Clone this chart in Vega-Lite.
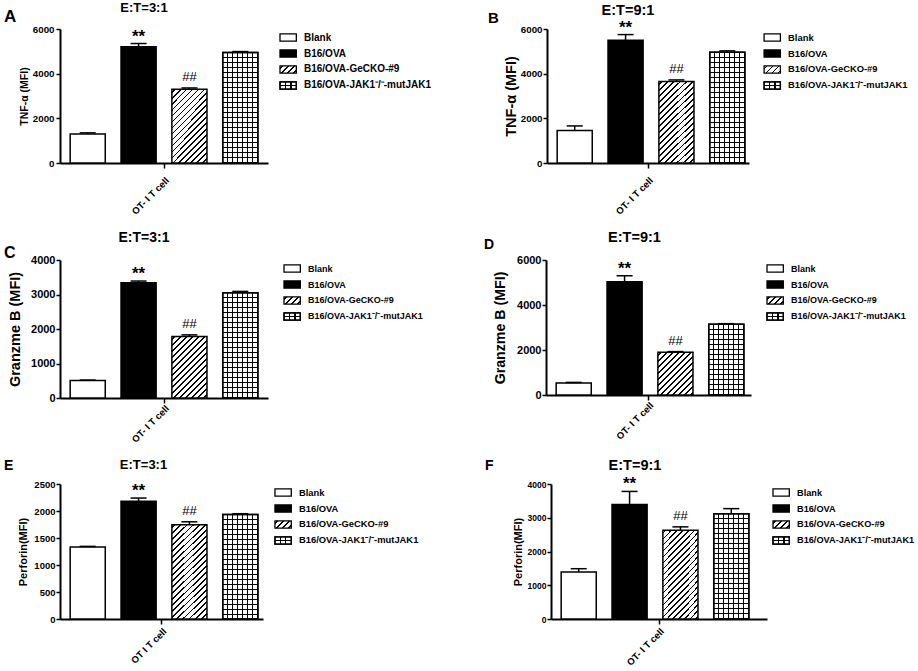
{
"$schema":"https://vega.github.io/schema/vega-lite/v6.json",
"background":"white",
"padding":{"left":4,"top":2,"right":0,"bottom":0},
"params":[
{"name":"hs","value":[
{"offset":0.014,"color":"#fff"},{"offset":0.014,"color":"#000"},{"offset":0.026,"color":"#000"},{"offset":0.026,"color":"#fff"},
{"offset":0.054,"color":"#fff"},{"offset":0.054,"color":"#000"},{"offset":0.066,"color":"#000"},{"offset":0.066,"color":"#fff"},
{"offset":0.094,"color":"#fff"},{"offset":0.094,"color":"#000"},{"offset":0.106,"color":"#000"},{"offset":0.106,"color":"#fff"},
{"offset":0.134,"color":"#fff"},{"offset":0.134,"color":"#000"},{"offset":0.146,"color":"#000"},{"offset":0.146,"color":"#fff"},
{"offset":0.174,"color":"#fff"},{"offset":0.174,"color":"#000"},{"offset":0.186,"color":"#000"},{"offset":0.186,"color":"#fff"},
{"offset":0.214,"color":"#fff"},{"offset":0.214,"color":"#000"},{"offset":0.226,"color":"#000"},{"offset":0.226,"color":"#fff"},
{"offset":0.254,"color":"#fff"},{"offset":0.254,"color":"#000"},{"offset":0.266,"color":"#000"},{"offset":0.266,"color":"#fff"},
{"offset":0.294,"color":"#fff"},{"offset":0.294,"color":"#000"},{"offset":0.306,"color":"#000"},{"offset":0.306,"color":"#fff"},
{"offset":0.334,"color":"#fff"},{"offset":0.334,"color":"#000"},{"offset":0.346,"color":"#000"},{"offset":0.346,"color":"#fff"},
{"offset":0.374,"color":"#fff"},{"offset":0.374,"color":"#000"},{"offset":0.386,"color":"#000"},{"offset":0.386,"color":"#fff"},
{"offset":0.414,"color":"#fff"},{"offset":0.414,"color":"#000"},{"offset":0.426,"color":"#000"},{"offset":0.426,"color":"#fff"},
{"offset":0.454,"color":"#fff"},{"offset":0.454,"color":"#000"},{"offset":0.466,"color":"#000"},{"offset":0.466,"color":"#fff"},
{"offset":0.494,"color":"#fff"},{"offset":0.494,"color":"#000"},{"offset":0.506,"color":"#000"},{"offset":0.506,"color":"#fff"},
{"offset":0.534,"color":"#fff"},{"offset":0.534,"color":"#000"},{"offset":0.546,"color":"#000"},{"offset":0.546,"color":"#fff"},
{"offset":0.574,"color":"#fff"},{"offset":0.574,"color":"#000"},{"offset":0.586,"color":"#000"},{"offset":0.586,"color":"#fff"},
{"offset":0.614,"color":"#fff"},{"offset":0.614,"color":"#000"},{"offset":0.626,"color":"#000"},{"offset":0.626,"color":"#fff"},
{"offset":0.654,"color":"#fff"},{"offset":0.654,"color":"#000"},{"offset":0.666,"color":"#000"},{"offset":0.666,"color":"#fff"},
{"offset":0.694,"color":"#fff"},{"offset":0.694,"color":"#000"},{"offset":0.706,"color":"#000"},{"offset":0.706,"color":"#fff"},
{"offset":0.734,"color":"#fff"},{"offset":0.734,"color":"#000"},{"offset":0.746,"color":"#000"},{"offset":0.746,"color":"#fff"},
{"offset":0.774,"color":"#fff"},{"offset":0.774,"color":"#000"},{"offset":0.786,"color":"#000"},{"offset":0.786,"color":"#fff"},
{"offset":0.814,"color":"#fff"},{"offset":0.814,"color":"#000"},{"offset":0.826,"color":"#000"},{"offset":0.826,"color":"#fff"},
{"offset":0.854,"color":"#fff"},{"offset":0.854,"color":"#000"},{"offset":0.866,"color":"#000"},{"offset":0.866,"color":"#fff"}
]},
{"name":"vg","value":[
{"offset":0.125,"color":"#fff"},{"offset":0.125,"color":"#000"},{"offset":0.161,"color":"#000"},{"offset":0.161,"color":"#fff"},
{"offset":0.268,"color":"#fff"},{"offset":0.268,"color":"#000"},{"offset":0.304,"color":"#000"},{"offset":0.304,"color":"#fff"},
{"offset":0.411,"color":"#fff"},{"offset":0.411,"color":"#000"},{"offset":0.447,"color":"#000"},{"offset":0.447,"color":"#fff"},
{"offset":0.553,"color":"#fff"},{"offset":0.553,"color":"#000"},{"offset":0.589,"color":"#000"},{"offset":0.589,"color":"#fff"},
{"offset":0.696,"color":"#fff"},{"offset":0.696,"color":"#000"},{"offset":0.732,"color":"#000"},{"offset":0.732,"color":"#fff"},
{"offset":0.839,"color":"#fff"},{"offset":0.839,"color":"#000"},{"offset":0.875,"color":"#000"},{"offset":0.875,"color":"#fff"}
]},
{"name":"hg","value":[
{"offset":0.0367,"color":"transparent"},{"offset":0.0367,"color":"#000"},{"offset":0.0467,"color":"#000"},{"offset":0.0467,"color":"transparent"},
{"offset":0.0783,"color":"transparent"},{"offset":0.0783,"color":"#000"},{"offset":0.0883,"color":"#000"},{"offset":0.0883,"color":"transparent"},
{"offset":0.12,"color":"transparent"},{"offset":0.12,"color":"#000"},{"offset":0.13,"color":"#000"},{"offset":0.13,"color":"transparent"},
{"offset":0.1617,"color":"transparent"},{"offset":0.1617,"color":"#000"},{"offset":0.1717,"color":"#000"},{"offset":0.1717,"color":"transparent"},
{"offset":0.2033,"color":"transparent"},{"offset":0.2033,"color":"#000"},{"offset":0.2133,"color":"#000"},{"offset":0.2133,"color":"transparent"},
{"offset":0.245,"color":"transparent"},{"offset":0.245,"color":"#000"},{"offset":0.255,"color":"#000"},{"offset":0.255,"color":"transparent"},
{"offset":0.2867,"color":"transparent"},{"offset":0.2867,"color":"#000"},{"offset":0.2967,"color":"#000"},{"offset":0.2967,"color":"transparent"},
{"offset":0.3283,"color":"transparent"},{"offset":0.3283,"color":"#000"},{"offset":0.3383,"color":"#000"},{"offset":0.3383,"color":"transparent"},
{"offset":0.37,"color":"transparent"},{"offset":0.37,"color":"#000"},{"offset":0.38,"color":"#000"},{"offset":0.38,"color":"transparent"},
{"offset":0.4117,"color":"transparent"},{"offset":0.4117,"color":"#000"},{"offset":0.4217,"color":"#000"},{"offset":0.4217,"color":"transparent"},
{"offset":0.4533,"color":"transparent"},{"offset":0.4533,"color":"#000"},{"offset":0.4633,"color":"#000"},{"offset":0.4633,"color":"transparent"},
{"offset":0.495,"color":"transparent"},{"offset":0.495,"color":"#000"},{"offset":0.505,"color":"#000"},{"offset":0.505,"color":"transparent"},
{"offset":0.5367,"color":"transparent"},{"offset":0.5367,"color":"#000"},{"offset":0.5467,"color":"#000"},{"offset":0.5467,"color":"transparent"},
{"offset":0.5783,"color":"transparent"},{"offset":0.5783,"color":"#000"},{"offset":0.5883,"color":"#000"},{"offset":0.5883,"color":"transparent"},
{"offset":0.62,"color":"transparent"},{"offset":0.62,"color":"#000"},{"offset":0.63,"color":"#000"},{"offset":0.63,"color":"transparent"},
{"offset":0.6617,"color":"transparent"},{"offset":0.6617,"color":"#000"},{"offset":0.6717,"color":"#000"},{"offset":0.6717,"color":"transparent"},
{"offset":0.7033,"color":"transparent"},{"offset":0.7033,"color":"#000"},{"offset":0.7133,"color":"#000"},{"offset":0.7133,"color":"transparent"},
{"offset":0.745,"color":"transparent"},{"offset":0.745,"color":"#000"},{"offset":0.755,"color":"#000"},{"offset":0.755,"color":"transparent"},
{"offset":0.7867,"color":"transparent"},{"offset":0.7867,"color":"#000"},{"offset":0.7967,"color":"#000"},{"offset":0.7967,"color":"transparent"},
{"offset":0.8283,"color":"transparent"},{"offset":0.8283,"color":"#000"},{"offset":0.8383,"color":"#000"},{"offset":0.8383,"color":"transparent"},
{"offset":0.87,"color":"transparent"},{"offset":0.87,"color":"#000"},{"offset":0.88,"color":"#000"},{"offset":0.88,"color":"transparent"},
{"offset":0.9117,"color":"transparent"},{"offset":0.9117,"color":"#000"},{"offset":0.9217,"color":"#000"},{"offset":0.9217,"color":"transparent"},
{"offset":0.9533,"color":"transparent"},{"offset":0.9533,"color":"#000"},{"offset":0.9633,"color":"#000"},{"offset":0.9633,"color":"transparent"}
]},
{"name":"lvg","value":[
{"offset":0.293,"color":"#fff"},{"offset":0.293,"color":"#000"},{"offset":0.373,"color":"#000"},{"offset":0.373,"color":"#fff"},
{"offset":0.627,"color":"#fff"},{"offset":0.627,"color":"#000"},{"offset":0.707,"color":"#000"},{"offset":0.707,"color":"#fff"}
]},
{"name":"lhg","value":[
{"offset":0.43,"color":"transparent"},{"offset":0.43,"color":"#000"},{"offset":0.57,"color":"#000"},{"offset":0.57,"color":"transparent"}
]}
],
"config":{
"view":{"stroke":null},
"font":"Liberation Sans",
"axis":{"domainColor":"#000","domainWidth":2,"tickColor":"#000","tickWidth":1.5,"labelColor":"#000","titleColor":"#000","labelFontWeight":"bold","titleFontWeight":"bold","grid":false}
},
"datasets":{
"A":[
{"cell":"OT- I T cell","group":"Blank","value":1300,"hi":1350,"sig":""},
{"cell":"OT- I T cell","group":"B16/OVA","value":5200,"hi":5350,"sig":"**"},
{"cell":"OT- I T cell","group":"B16/OVA-GeCKO-#9","value":3300,"hi":3360,"sig":"##"},
{"cell":"OT- I T cell","group":"B16/OVA-JAK1⁻/⁻-mutJAK1","value":4950,"hi":4990,"sig":""}],
"B":[
{"cell":"OT- I T cell","group":"Blank","value":1460,"hi":1660,"sig":""},
{"cell":"OT- I T cell","group":"B16/OVA","value":5500,"hi":5750,"sig":"**"},
{"cell":"OT- I T cell","group":"B16/OVA-GeCKO-#9","value":3650,"hi":3720,"sig":"##"},
{"cell":"OT- I T cell","group":"B16/OVA-JAK1⁻/⁻-mutJAK1","value":4960,"hi":5020,"sig":""}],
"C":[
{"cell":"OT- I T cell","group":"Blank","value":510,"hi":520,"sig":""},
{"cell":"OT- I T cell","group":"B16/OVA","value":3340,"hi":3390,"sig":"**"},
{"cell":"OT- I T cell","group":"B16/OVA-GeCKO-#9","value":1780,"hi":1830,"sig":"##"},
{"cell":"OT- I T cell","group":"B16/OVA-JAK1⁻/⁻-mutJAK1","value":3050,"hi":3090,"sig":""}],
"D":[
{"cell":"OT- I T cell","group":"Blank","value":530,"hi":560,"sig":""},
{"cell":"OT- I T cell","group":"B16/OVA","value":5030,"hi":5300,"sig":"**"},
{"cell":"OT- I T cell","group":"B16/OVA-GeCKO-#9","value":1900,"hi":1930,"sig":"##"},
{"cell":"OT- I T cell","group":"B16/OVA-JAK1⁻/⁻-mutJAK1","value":3140,"hi":3170,"sig":""}],
"E":[
{"cell":"OT I T cell","group":"Blank","value":1335,"hi":1345,"sig":""},
{"cell":"OT I T cell","group":"B16/OVA","value":2180,"hi":2240,"sig":"**"},
{"cell":"OT I T cell","group":"B16/OVA-GeCKO-#9","value":1745,"hi":1800,"sig":"##"},
{"cell":"OT I T cell","group":"B16/OVA-JAK1⁻/⁻-mutJAK1","value":1935,"hi":1950,"sig":""}],
"F":[
{"cell":"OT- I T cell","group":"Blank","value":1390,"hi":1490,"sig":""},
{"cell":"OT- I T cell","group":"B16/OVA","value":3390,"hi":3780,"sig":"**"},
{"cell":"OT- I T cell","group":"B16/OVA-GeCKO-#9","value":2630,"hi":2730,"sig":"##"},
{"cell":"OT- I T cell","group":"B16/OVA-JAK1⁻/⁻-mutJAK1","value":3120,"hi":3270,"sig":""}]
},
"vconcat":[
{"hconcat":[
{"width":208,"height":134,"data":{"name":"A"},
"encoding":{
"x":{"field":"cell","type":"nominal","scale":{"paddingInner":0,"paddingOuter":0},"axis":{"title":null,"labelAngle":-45,"labelFontSize":9.5,"tickSize":5,"labelPadding":7}},
"y":{"field":"value","type":"quantitative","stack":null,"scale":{"domain":[0,6000],"nice":false},"axis":{"title":"TNF-α (MFI)","values":[0,2000,4000,6000],"format":"d","labelFontSize":9.75,"titleFontSize":10.5,"titlePadding":3,"labelPadding":2,"tickSize":4}}},
"layer":[
{"encoding":{"xOffset":{"field":"group","type":"nominal","scale":{"domain":["Blank","B16/OVA","B16/OVA-GeCKO-#9","B16/OVA-JAK1⁻/⁻-mutJAK1"],"paddingInner":0.31,"paddingOuter":0.2}}},
"layer":[
{"mark":{"type":"bar","stroke":"#000","strokeWidth":1.5,"fill":{"expr":"datum.group==='B16/OVA'?'#000':datum.group==='B16/OVA-GeCKO-#9'?{gradient:'linear',x1:0,y1:0,x2:0.79,y2:1.65,stops:hs}:datum.group==='Blank'?'#fff':{gradient:'linear',x1:0,y1:0,x2:1,y2:0,stops:vg}"}}},
{"transform":[{"filter":"datum.sig==='' && datum.group!=='Blank'"}],"mark":{"type":"bar","stroke":"#000","strokeWidth":1.5,"fill":{"expr":"{gradient:'linear',x1:0,y1:0,x2:0,y2:1.085,stops:hg}"}}},
{"mark":{"type":"rule","color":"#000","strokeWidth":1.5},"encoding":{"y2":{"field":"hi"}}},
{"mark":{"type":"tick","color":"#000","thickness":1.5,"size":16,"opacity":1},"encoding":{"y":{"field":"hi","type":"quantitative"}}},
{"transform":[{"filter":"datum.sig==='**'"}],"mark":{"type":"text","fontSize":17,"fontWeight":"bold","baseline":"alphabetic","dy":-2,"color":"#000"},"encoding":{"y":{"field":"hi","type":"quantitative"},"text":{"field":"sig"}}},
{"transform":[{"filter":"datum.sig==='##'"}],"mark":{"type":"text","fontSize":13,"baseline":"alphabetic","dy":-7,"color":"#000"},"encoding":{"y":{"field":"hi","type":"quantitative"},"text":{"field":"sig"}}}
]},
{"transform":[{"filter":"datum.group==='Blank'"}],"mark":{"type":"text","text":"E:T=3:1","fontSize":13,"fontWeight":"bold","align":"center","baseline":"alphabetic","dx":-20,"dy":-17,"color":"#000"},"encoding":{"y":{"datum":6000,"type":"quantitative"}}},
{"transform":[{"filter":"datum.group==='Blank'"}],"mark":{"type":"text","text":"A","fontSize":17,"fontWeight":"bold","align":"left","baseline":"alphabetic","dx":-56,"dy":-7,"color":"#000"},"encoding":{"x":{"field":"cell","type":"nominal","bandPosition":0},"y":{"datum":6000,"type":"quantitative"}}}
]},
{"width":197,"height":65,"data":{"name":"A"},
"encoding":{"y":{"field":"group","type":"nominal","scale":{"domain":["Blank","B16/OVA","B16/OVA-GeCKO-#9","B16/OVA-JAK1⁻/⁻-mutJAK1"],"paddingInner":0.55,"paddingOuter":0.31},"axis":null},
"x":{"datum":0,"type":"quantitative","scale":{"domain":[0,8.208],"nice":false,"zero":false},"axis":null}},
"layer":[
{"mark":{"type":"bar","stroke":"#000","strokeWidth":1.3,"fill":{"expr":"datum.group==='B16/OVA'?'#000':datum.group==='B16/OVA-GeCKO-#9'?{gradient:'linear',x1:0,y1:0,x2:7.69,y2:3.4,stops:hs}:datum.group==='Blank'?'#fff':{gradient:'linear',x1:0,y1:0,x2:1,y2:0,stops:lvg}"}},"encoding":{"x2":{"datum":0.68}}},
{"transform":[{"filter":"datum.sig==='' && datum.group!=='Blank'"}],"mark":{"type":"bar","stroke":"#000","strokeWidth":1.3,"fill":{"expr":"{gradient:'linear',x1:0,y1:0,x2:0,y2:1,stops:lhg}"}},"encoding":{"x2":{"datum":0.68}}},
{"mark":{"type":"text","align":"left","baseline":"middle","fontSize":10,"fontWeight":"bold","color":"#000"},"encoding":{"x":{"datum":1,"type":"quantitative","axis":null},"text":{"field":"group"}}}
]},
{"width":202,"height":134,"data":{"name":"B"},
"encoding":{
"x":{"field":"cell","type":"nominal","scale":{"paddingInner":0,"paddingOuter":0},"axis":{"title":null,"labelAngle":-45,"labelFontSize":9.5,"tickSize":5,"labelPadding":7}},
"y":{"field":"value","type":"quantitative","stack":null,"scale":{"domain":[0,6000],"nice":false},"axis":{"title":"TNF-α (MFI)","values":[0,2000,4000,6000],"format":"d","labelFontSize":9.75,"titleFontSize":14.5,"titlePadding":2,"labelPadding":1,"tickSize":4}}},
"layer":[
{"encoding":{"xOffset":{"field":"group","type":"nominal","scale":{"domain":["Blank","B16/OVA","B16/OVA-GeCKO-#9","B16/OVA-JAK1⁻/⁻-mutJAK1"],"paddingInner":0.31,"paddingOuter":0.2}}},
"layer":[
{"mark":{"type":"bar","stroke":"#000","strokeWidth":1.5,"fill":{"expr":"datum.group==='B16/OVA'?'#000':datum.group==='B16/OVA-GeCKO-#9'?{gradient:'linear',x1:0,y1:0,x2:0.655,y2:1.566,stops:hs}:datum.group==='Blank'?'#fff':{gradient:'linear',x1:0,y1:0,x2:1,y2:0,stops:vg}"}}},
{"transform":[{"filter":"datum.sig==='' && datum.group!=='Blank'"}],"mark":{"type":"bar","stroke":"#000","strokeWidth":1.5,"fill":{"expr":"{gradient:'linear',x1:0,y1:0,x2:0,y2:1.083,stops:hg}"}}},
{"mark":{"type":"rule","color":"#000","strokeWidth":1.5},"encoding":{"y2":{"field":"hi"}}},
{"mark":{"type":"tick","color":"#000","thickness":1.5,"size":16,"opacity":1},"encoding":{"y":{"field":"hi","type":"quantitative"}}},
{"transform":[{"filter":"datum.sig==='**'"}],"mark":{"type":"text","fontSize":17,"fontWeight":"bold","baseline":"alphabetic","dy":-2,"color":"#000"},"encoding":{"y":{"field":"hi","type":"quantitative"},"text":{"field":"sig"}}},
{"transform":[{"filter":"datum.sig==='##'"}],"mark":{"type":"text","fontSize":13,"baseline":"alphabetic","dy":-7,"color":"#000"},"encoding":{"y":{"field":"hi","type":"quantitative"},"text":{"field":"sig"}}}
]},
{"transform":[{"filter":"datum.group==='Blank'"}],"mark":{"type":"text","text":"E:T=9:1","fontSize":14.5,"fontWeight":"bold","align":"center","baseline":"alphabetic","dx":-20,"dy":-14,"color":"#000"},"encoding":{"y":{"datum":6000,"type":"quantitative"}}},
{"transform":[{"filter":"datum.group==='Blank'"}],"mark":{"type":"text","text":"B","fontSize":15,"fontWeight":"bold","align":"left","baseline":"alphabetic","dx":-59,"dy":-6,"color":"#000"},"encoding":{"x":{"field":"cell","type":"nominal","bandPosition":0},"y":{"datum":6000,"type":"quantitative"}}}
]},
{"width":140,"height":65,"data":{"name":"B"},
"encoding":{"y":{"field":"group","type":"nominal","scale":{"domain":["Blank","B16/OVA","B16/OVA-GeCKO-#9","B16/OVA-JAK1⁻/⁻-mutJAK1"],"paddingInner":0.55,"paddingOuter":0.31},"axis":null},
"x":{"datum":0,"type":"quantitative","scale":{"domain":[-0.17,5.663],"nice":false,"zero":false},"axis":null}},
"layer":[
{"mark":{"type":"bar","stroke":"#000","strokeWidth":1.3,"fill":{"expr":"datum.group==='B16/OVA'?'#000':datum.group==='B16/OVA-GeCKO-#9'?{gradient:'linear',x1:0,y1:0,x2:7.69,y2:3.4,stops:hs}:datum.group==='Blank'?'#fff':{gradient:'linear',x1:0,y1:0,x2:1,y2:0,stops:lvg}"}},"encoding":{"x2":{"datum":0.68}}},
{"transform":[{"filter":"datum.sig==='' && datum.group!=='Blank'"}],"mark":{"type":"bar","stroke":"#000","strokeWidth":1.3,"fill":{"expr":"{gradient:'linear',x1:0,y1:0,x2:0,y2:1,stops:lhg}"}},"encoding":{"x2":{"datum":0.68}}},
{"mark":{"type":"text","align":"left","baseline":"middle","fontSize":9.4,"fontWeight":"bold","color":"#000"},"encoding":{"x":{"datum":1,"type":"quantitative","axis":null},"text":{"field":"group"}}}
]}
],"spacing":11},
{"hconcat":[
{"width":208,"height":138,"data":{"name":"C"},
"encoding":{
"x":{"field":"cell","type":"nominal","scale":{"paddingInner":0,"paddingOuter":0},"axis":{"title":null,"labelAngle":-45,"labelFontSize":9.5,"tickSize":5,"labelPadding":0}},
"y":{"field":"value","type":"quantitative","stack":null,"scale":{"domain":[0,4000],"nice":false},"axis":{"title":"Granzme B (MFI)","values":[0,1000,2000,3000,4000],"format":"d","labelFontSize":11,"titleFontSize":14.5,"titlePadding":8.5,"labelPadding":1,"tickSize":4}}},
"layer":[
{"encoding":{"xOffset":{"field":"group","type":"nominal","scale":{"domain":["Blank","B16/OVA","B16/OVA-GeCKO-#9","B16/OVA-JAK1⁻/⁻-mutJAK1"],"paddingInner":0.31,"paddingOuter":0.2}}},
"layer":[
{"mark":{"type":"bar","stroke":"#000","strokeWidth":1.5,"fill":{"expr":"datum.group==='B16/OVA'?'#000':datum.group==='B16/OVA-GeCKO-#9'?{gradient:'linear',x1:0,y1:0,x2:1.053,y2:1.841,stops:hs}:datum.group==='Blank'?'#fff':{gradient:'linear',x1:0,y1:0,x2:1,y2:0,stops:vg}"}}},
{"transform":[{"filter":"datum.sig==='' && datum.group!=='Blank'"}],"mark":{"type":"bar","stroke":"#000","strokeWidth":1.5,"fill":{"expr":"{gradient:'linear',x1:0,y1:0,x2:0,y2:1.141,stops:hg}"}}},
{"mark":{"type":"rule","color":"#000","strokeWidth":1.5},"encoding":{"y2":{"field":"hi"}}},
{"mark":{"type":"tick","color":"#000","thickness":1.5,"size":16,"opacity":1},"encoding":{"y":{"field":"hi","type":"quantitative"}}},
{"transform":[{"filter":"datum.sig==='**'"}],"mark":{"type":"text","fontSize":17,"fontWeight":"bold","baseline":"alphabetic","dy":-2,"color":"#000"},"encoding":{"y":{"field":"hi","type":"quantitative"},"text":{"field":"sig"}}},
{"transform":[{"filter":"datum.sig==='##'"}],"mark":{"type":"text","fontSize":13,"baseline":"alphabetic","dy":-7,"color":"#000"},"encoding":{"y":{"field":"hi","type":"quantitative"},"text":{"field":"sig"}}}
]},
{"transform":[{"filter":"datum.group==='Blank'"}],"mark":{"type":"text","text":"E:T=3:1","fontSize":14,"fontWeight":"bold","align":"center","baseline":"alphabetic","dx":-20,"dy":-18,"color":"#000"},"encoding":{"y":{"datum":4000,"type":"quantitative"}}},
{"transform":[{"filter":"datum.group==='Blank'"}],"mark":{"type":"text","text":"C","fontSize":16,"fontWeight":"bold","align":"left","baseline":"alphabetic","dx":-56,"dy":-2,"color":"#000"},"encoding":{"x":{"field":"cell","type":"nominal","bandPosition":0},"y":{"datum":4000,"type":"quantitative"}}}
]},
{"width":185,"height":65,"data":{"name":"C"},
"encoding":{"y":{"field":"group","type":"nominal","scale":{"domain":["Blank","B16/OVA","B16/OVA-GeCKO-#9","B16/OVA-JAK1⁻/⁻-mutJAK1"],"paddingInner":0.55,"paddingOuter":0.31},"axis":null},
"x":{"datum":0,"type":"quantitative","scale":{"domain":[0,7.708],"nice":false,"zero":false},"axis":null}},
"layer":[
{"mark":{"type":"bar","stroke":"#000","strokeWidth":1.3,"fill":{"expr":"datum.group==='B16/OVA'?'#000':datum.group==='B16/OVA-GeCKO-#9'?{gradient:'linear',x1:0,y1:0,x2:7.69,y2:3.4,stops:hs}:datum.group==='Blank'?'#fff':{gradient:'linear',x1:0,y1:0,x2:1,y2:0,stops:lvg}"}},"encoding":{"x2":{"datum":0.68}}},
{"transform":[{"filter":"datum.sig==='' && datum.group!=='Blank'"}],"mark":{"type":"bar","stroke":"#000","strokeWidth":1.3,"fill":{"expr":"{gradient:'linear',x1:0,y1:0,x2:0,y2:1,stops:lhg}"}},"encoding":{"x2":{"datum":0.68}}},
{"mark":{"type":"text","align":"left","baseline":"middle","fontSize":9,"fontWeight":"bold","color":"#000"},"encoding":{"x":{"datum":1,"type":"quantitative","axis":null},"text":{"field":"group"}}}
]},
{"width":205,"height":135,"data":{"name":"D"},
"encoding":{
"x":{"field":"cell","type":"nominal","scale":{"paddingInner":0,"paddingOuter":0},"axis":{"title":null,"labelAngle":-45,"labelFontSize":9.5,"tickSize":5,"labelPadding":0}},
"y":{"field":"value","type":"quantitative","stack":null,"scale":{"domain":[0,6000],"nice":false},"axis":{"title":"Granzme B (MFI)","values":[0,2000,4000,6000],"format":"d","labelFontSize":11,"titleFontSize":14.2,"titlePadding":9.5,"labelPadding":1,"tickSize":4}}},
"layer":[
{"encoding":{"xOffset":{"field":"group","type":"nominal","scale":{"domain":["Blank","B16/OVA","B16/OVA-GeCKO-#9","B16/OVA-JAK1⁻/⁻-mutJAK1"],"paddingInner":0.31,"paddingOuter":0.2}}},
"layer":[
{"mark":{"type":"bar","stroke":"#000","strokeWidth":1.5,"fill":{"expr":"datum.group==='B16/OVA'?'#000':datum.group==='B16/OVA-GeCKO-#9'?{gradient:'linear',x1:0,y1:0,x2:1.716,y2:2.12,stops:hs}:datum.group==='Blank'?'#fff':{gradient:'linear',x1:0,y1:0,x2:1,y2:0,stops:vg}"}}},
{"transform":[{"filter":"datum.sig==='' && datum.group!=='Blank'"}],"mark":{"type":"bar","stroke":"#000","strokeWidth":1.5,"fill":{"expr":"{gradient:'linear',x1:0,y1:0,x2:0,y2:1.699,stops:hg}"}}},
{"mark":{"type":"rule","color":"#000","strokeWidth":1.5},"encoding":{"y2":{"field":"hi"}}},
{"mark":{"type":"tick","color":"#000","thickness":1.5,"size":16,"opacity":1},"encoding":{"y":{"field":"hi","type":"quantitative"}}},
{"transform":[{"filter":"datum.sig==='**'"}],"mark":{"type":"text","fontSize":17,"fontWeight":"bold","baseline":"alphabetic","dy":-2,"color":"#000"},"encoding":{"y":{"field":"hi","type":"quantitative"},"text":{"field":"sig"}}},
{"transform":[{"filter":"datum.sig==='##'"}],"mark":{"type":"text","fontSize":13,"baseline":"alphabetic","dy":-7,"color":"#000"},"encoding":{"y":{"field":"hi","type":"quantitative"},"text":{"field":"sig"}}}
]},
{"transform":[{"filter":"datum.group==='Blank'"}],"mark":{"type":"text","text":"E:T=9:1","fontSize":14.5,"fontWeight":"bold","align":"center","baseline":"alphabetic","dx":-14,"dy":-18,"color":"#000"},"encoding":{"y":{"datum":6000,"type":"quantitative"}}},
{"transform":[{"filter":"datum.group==='Blank'"}],"mark":{"type":"text","text":"D","fontSize":14,"fontWeight":"bold","align":"left","baseline":"alphabetic","dx":-62,"dy":-11,"color":"#000"},"encoding":{"x":{"field":"cell","type":"nominal","bandPosition":0},"y":{"datum":6000,"type":"quantitative"}}}
]},
{"width":140,"height":65,"data":{"name":"D"},
"encoding":{"y":{"field":"group","type":"nominal","scale":{"domain":["Blank","B16/OVA","B16/OVA-GeCKO-#9","B16/OVA-JAK1⁻/⁻-mutJAK1"],"paddingInner":0.55,"paddingOuter":0.31},"axis":null},
"x":{"datum":0,"type":"quantitative","scale":{"domain":[0,5.833],"nice":false,"zero":false},"axis":null}},
"layer":[
{"mark":{"type":"bar","stroke":"#000","strokeWidth":1.3,"fill":{"expr":"datum.group==='B16/OVA'?'#000':datum.group==='B16/OVA-GeCKO-#9'?{gradient:'linear',x1:0,y1:0,x2:7.69,y2:3.4,stops:hs}:datum.group==='Blank'?'#fff':{gradient:'linear',x1:0,y1:0,x2:1,y2:0,stops:lvg}"}},"encoding":{"x2":{"datum":0.68}}},
{"transform":[{"filter":"datum.sig==='' && datum.group!=='Blank'"}],"mark":{"type":"bar","stroke":"#000","strokeWidth":1.3,"fill":{"expr":"{gradient:'linear',x1:0,y1:0,x2:0,y2:1,stops:lhg}"}},"encoding":{"x2":{"datum":0.68}}},
{"mark":{"type":"text","align":"left","baseline":"middle","fontSize":9,"fontWeight":"bold","color":"#000"},"encoding":{"x":{"datum":1,"type":"quantitative","axis":null},"text":{"field":"group"}}}
]}
],"spacing":15},
{"hconcat":[
{"width":203,"height":135,"data":{"name":"E"},
"encoding":{
"x":{"field":"cell","type":"nominal","scale":{"paddingInner":0,"paddingOuter":0},"axis":{"title":null,"labelAngle":-45,"labelFontSize":9.5,"tickSize":5,"labelPadding":2}},
"y":{"field":"value","type":"quantitative","stack":null,"scale":{"domain":[0,2500],"nice":false},"axis":{"title":"Perforin(MFI)","values":[0,500,1000,1500,2000,2500],"format":"d","labelFontSize":9.5,"titleFontSize":11,"titlePadding":5.5,"labelPadding":1,"tickSize":4}}},
"layer":[
{"encoding":{"xOffset":{"field":"group","type":"nominal","scale":{"domain":["Blank","B16/OVA","B16/OVA-GeCKO-#9","B16/OVA-JAK1⁻/⁻-mutJAK1"],"paddingInner":0.31,"paddingOuter":0.2}}},
"layer":[
{"mark":{"type":"bar","stroke":"#000","strokeWidth":1.5,"fill":{"expr":"datum.group==='B16/OVA'?'#000':datum.group==='B16/OVA-GeCKO-#9'?{gradient:'linear',x1:0,y1:0,x2:0.512,y2:1.405,stops:hs}:datum.group==='Blank'?'#fff':{gradient:'linear',x1:0,y1:0,x2:1,y2:0,stops:vg}"}}},
{"transform":[{"filter":"datum.sig==='' && datum.group!=='Blank'"}],"mark":{"type":"bar","stroke":"#000","strokeWidth":1.5,"fill":{"expr":"{gradient:'linear',x1:0,y1:0,x2:0,y2:1.148,stops:hg}"}}},
{"mark":{"type":"rule","color":"#000","strokeWidth":1.5},"encoding":{"y2":{"field":"hi"}}},
{"mark":{"type":"tick","color":"#000","thickness":1.5,"size":16,"opacity":1},"encoding":{"y":{"field":"hi","type":"quantitative"}}},
{"transform":[{"filter":"datum.sig==='**'"}],"mark":{"type":"text","fontSize":17,"fontWeight":"bold","baseline":"alphabetic","dy":-2,"color":"#000"},"encoding":{"y":{"field":"hi","type":"quantitative"},"text":{"field":"sig"}}},
{"transform":[{"filter":"datum.sig==='##'"}],"mark":{"type":"text","fontSize":13,"baseline":"alphabetic","dy":-7,"color":"#000"},"encoding":{"y":{"field":"hi","type":"quantitative"},"text":{"field":"sig"}}}
]},
{"transform":[{"filter":"datum.group==='Blank'"}],"mark":{"type":"text","text":"E:T=3:1","fontSize":13,"fontWeight":"bold","align":"center","baseline":"alphabetic","dx":-18,"dy":-15,"color":"#000"},"encoding":{"y":{"datum":2500,"type":"quantitative"}}},
{"transform":[{"filter":"datum.group==='Blank'"}],"mark":{"type":"text","text":"E","fontSize":14,"fontWeight":"bold","align":"left","baseline":"alphabetic","dx":-56,"dy":-14,"color":"#000"},"encoding":{"x":{"field":"cell","type":"nominal","bandPosition":0},"y":{"datum":2500,"type":"quantitative"}}}
]},
{"width":212,"height":65,"data":{"name":"E"},
"encoding":{"y":{"field":"group","type":"nominal","scale":{"domain":["Blank","B16/OVA","B16/OVA-GeCKO-#9","B16/OVA-JAK1⁻/⁻-mutJAK1"],"paddingInner":0.55,"paddingOuter":0.31},"axis":null},
"x":{"datum":0,"type":"quantitative","scale":{"domain":[-0.29,8.543],"nice":false,"zero":false},"axis":null}},
"layer":[
{"mark":{"type":"bar","stroke":"#000","strokeWidth":1.3,"fill":{"expr":"datum.group==='B16/OVA'?'#000':datum.group==='B16/OVA-GeCKO-#9'?{gradient:'linear',x1:0,y1:0,x2:7.69,y2:3.4,stops:hs}:datum.group==='Blank'?'#fff':{gradient:'linear',x1:0,y1:0,x2:1,y2:0,stops:lvg}"}},"encoding":{"x2":{"datum":0.68}}},
{"transform":[{"filter":"datum.sig==='' && datum.group!=='Blank'"}],"mark":{"type":"bar","stroke":"#000","strokeWidth":1.3,"fill":{"expr":"{gradient:'linear',x1:0,y1:0,x2:0,y2:1,stops:lhg}"}},"encoding":{"x2":{"datum":0.68}}},
{"mark":{"type":"text","align":"left","baseline":"middle","fontSize":9.4,"fontWeight":"bold","color":"#000"},"encoding":{"x":{"datum":1,"type":"quantitative","axis":null},"text":{"field":"group"}}}
]},
{"width":216,"height":135,"data":{"name":"F"},
"encoding":{
"x":{"field":"cell","type":"nominal","scale":{"paddingInner":0,"paddingOuter":0},"axis":{"title":null,"labelAngle":-45,"labelFontSize":9.5,"tickSize":5,"labelPadding":2}},
"y":{"field":"value","type":"quantitative","stack":null,"scale":{"domain":[0,4000],"nice":false},"axis":{"title":"Perforin(MFI)","values":[0,1000,2000,3000,4000],"format":"d","labelFontSize":8.5,"titleFontSize":11,"titlePadding":4,"labelPadding":1,"tickSize":4}}},
"layer":[
{"encoding":{"xOffset":{"field":"group","type":"nominal","scale":{"domain":["Blank","B16/OVA","B16/OVA-GeCKO-#9","B16/OVA-JAK1⁻/⁻-mutJAK1"],"paddingInner":0.31,"paddingOuter":0.2}}},
"layer":[
{"mark":{"type":"bar","stroke":"#000","strokeWidth":1.5,"fill":{"expr":"datum.group==='B16/OVA'?'#000':datum.group==='B16/OVA-GeCKO-#9'?{gradient:'linear',x1:0,y1:0,x2:0.593,y2:1.446,stops:hs}:datum.group==='Blank'?'#fff':{gradient:'linear',x1:0,y1:0,x2:1,y2:0,stops:vg}"}}},
{"transform":[{"filter":"datum.sig==='' && datum.group!=='Blank'"}],"mark":{"type":"bar","stroke":"#000","strokeWidth":1.5,"fill":{"expr":"{gradient:'linear',x1:0,y1:0,x2:0,y2:1.14,stops:hg}"}}},
{"mark":{"type":"rule","color":"#000","strokeWidth":1.5},"encoding":{"y2":{"field":"hi"}}},
{"mark":{"type":"tick","color":"#000","thickness":1.5,"size":16,"opacity":1},"encoding":{"y":{"field":"hi","type":"quantitative"}}},
{"transform":[{"filter":"datum.sig==='**'"}],"mark":{"type":"text","fontSize":17,"fontWeight":"bold","baseline":"alphabetic","dy":-2,"color":"#000"},"encoding":{"y":{"field":"hi","type":"quantitative"},"text":{"field":"sig"}}},
{"transform":[{"filter":"datum.sig==='##'"}],"mark":{"type":"text","fontSize":13,"baseline":"alphabetic","dy":-7,"color":"#000"},"encoding":{"y":{"field":"hi","type":"quantitative"},"text":{"field":"sig"}}}
]},
{"transform":[{"filter":"datum.group==='Blank'"}],"mark":{"type":"text","text":"E:T=9:1","fontSize":14.5,"fontWeight":"bold","align":"center","baseline":"alphabetic","dx":-24,"dy":-14,"color":"#000"},"encoding":{"y":{"datum":4000,"type":"quantitative"}}},
{"transform":[{"filter":"datum.group==='Blank'"}],"mark":{"type":"text","text":"F","fontSize":14,"fontWeight":"bold","align":"left","baseline":"alphabetic","dx":-66,"dy":-14,"color":"#000"},"encoding":{"x":{"field":"cell","type":"nominal","bandPosition":0},"y":{"datum":4000,"type":"quantitative"}}}
]},
{"width":135,"height":65,"data":{"name":"F"},
"encoding":{"y":{"field":"group","type":"nominal","scale":{"domain":["Blank","B16/OVA","B16/OVA-GeCKO-#9","B16/OVA-JAK1⁻/⁻-mutJAK1"],"paddingInner":0.55,"paddingOuter":0.31},"axis":null},
"x":{"datum":0,"type":"quantitative","scale":{"domain":[0,5.625],"nice":false,"zero":false},"axis":null}},
"layer":[
{"mark":{"type":"bar","stroke":"#000","strokeWidth":1.3,"fill":{"expr":"datum.group==='B16/OVA'?'#000':datum.group==='B16/OVA-GeCKO-#9'?{gradient:'linear',x1:0,y1:0,x2:7.69,y2:3.4,stops:hs}:datum.group==='Blank'?'#fff':{gradient:'linear',x1:0,y1:0,x2:1,y2:0,stops:lvg}"}},"encoding":{"x2":{"datum":0.68}}},
{"transform":[{"filter":"datum.sig==='' && datum.group!=='Blank'"}],"mark":{"type":"bar","stroke":"#000","strokeWidth":1.3,"fill":{"expr":"{gradient:'linear',x1:0,y1:0,x2:0,y2:1,stops:lhg}"}},"encoding":{"x2":{"datum":0.68}}},
{"mark":{"type":"text","align":"left","baseline":"middle","fontSize":9.2,"fontWeight":"bold","color":"#000"},"encoding":{"x":{"datum":1,"type":"quantitative","axis":null},"text":{"field":"group"}}}
]}
],"spacing":5}
],
"spacing":14
}
